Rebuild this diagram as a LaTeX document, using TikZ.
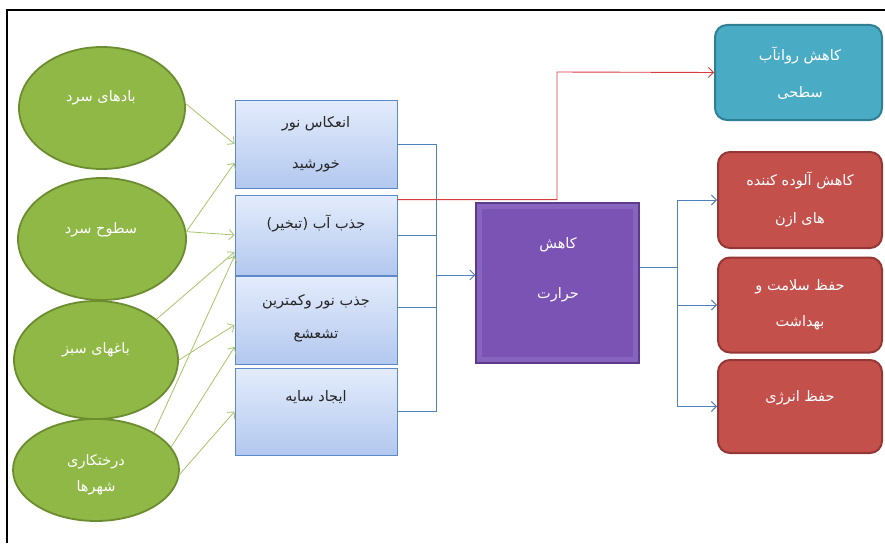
\documentclass[tikz,border=0pt]{standalone}
\usepackage{fontspec}
\usetikzlibrary{shapes.geometric,arrows.meta}
\TeXXeTstate=1
\newfontfamily\farsifont[Script=Arabic]{DejaVu Sans}
\newcommand{\fatext}[1]{\beginR #1\endR}

\definecolor{leafgreen}{HTML}{8FB847}
\definecolor{leafedge}{HTML}{6B8C2F}
\definecolor{arrowgreen}{HTML}{A6C466}
\definecolor{boxtop}{HTML}{E3ECFB}
\definecolor{boxbottom}{HTML}{B3C8EF}
\definecolor{boxedge}{HTML}{5B89C9}
\definecolor{lineblue}{HTML}{4F81BD}
\definecolor{heatfill}{HTML}{7A53B5}
\definecolor{heatband}{HTML}{8765BF}
\definecolor{heatedge}{HTML}{5C3B8C}
\definecolor{waterfill}{HTML}{4AABC5}
\definecolor{wateredge}{HTML}{2F7F95}
\definecolor{brickfill}{HTML}{C4504C}
\definecolor{brickedge}{HTML}{953734}
\definecolor{linered}{HTML}{D93A3C}

\begin{document}
\begin{tikzpicture}[x=1pt,y=-1pt,
  >={Straight Barb[length=5pt,width=10pt]},
  oval/.style={ellipse,draw=leafedge,line width=1.8pt,fill=leafgreen},
  effect/.style={rectangle,draw=boxedge,line width=0.9pt,top color=boxtop,bottom color=boxbottom,minimum width=162pt},
  result/.style={rectangle,rounded corners=12pt,line width=2pt,minimum width=164pt},
  txt/.style={font=\farsifont\fontsize{14.5}{18}\selectfont,align=center,inner sep=0pt},
  greenarrow/.style={->,draw=arrowgreen,line width=0.8pt},
  bluearrow/.style={draw=lineblue,line width=0.9pt},
  redarrow/.style={->,draw=linered,line width=0.9pt}]
\useasboundingbox (0,0) rectangle (885,543);
\draw[line width=1.2pt] (7,543) -- (7,10) -- (885,10);

\node[oval,minimum width=166pt,minimum height=122pt] (wind) at (102,108) {};
\node[oval,minimum width=168pt,minimum height=122pt] (surf) at (102,239) {};
\node[oval,minimum width=164pt,minimum height=118pt] (garden) at (96,360) {};
\node[oval,minimum width=166pt,minimum height=102pt] (trees) at (96,470) {};
\node[txt,text=white] (windtxt) at (101,98) {\fatext{بادهای سرد}};
\node[txt,text=white] (surftxt) at (101,230) {\fatext{سطوح سرد}};
\node[txt,text=white] (gardentxt) at (96,350) {\fatext{باغهای سبز}};
\node[txt,text=white] (treestxt) at (96,475) {\fatext{درختکاری}\\[8pt]\fatext{شهرها}};

\node[effect,minimum height=88pt] (b1) at (316,144) {};
\node[effect,minimum height=80pt] (b2) at (316,235) {};
\node[effect,minimum height=88pt] (b3) at (316,320) {};
\node[effect,minimum height=87pt] (b4) at (316,411.5) {};
\node[txt,text=black!85] (b1txt) at (316,144.5) {\fatext{انعکاس نور}\\[23pt]\fatext{خورشید}};
\node[txt,text=black!85] (b2txt) at (316,223) {\fatext{جذب آب (تبخیر)}};
\node[txt,text=black!85] (b3txt) at (316,318) {\fatext{جذب نور وکمترین}\\[15pt]\fatext{تشعشع}};
\node[txt,text=black!85] (b4txt) at (316,397) {\fatext{ایجاد سایه}};

\node[rectangle,draw=heatedge,line width=1.2pt,fill=heatfill,
  minimum width=163pt,minimum height=160pt] (cool) at (557.5,283) {};
\draw[heatband,line width=5pt] ([shift={(4pt,-4pt)}]cool.north west) rectangle ([shift={(-4pt,4pt)}]cool.south east);
\node[txt,text=white] (cooltxt) at (558,270) {\fatext{کاهش}\\[32pt]\fatext{حرارت}};

\node[result,draw=wateredge,fill=waterfill,minimum width=167pt,minimum height=95pt] (runoff) at (798.5,72.5) {};
\node[result,draw=brickedge,fill=brickfill,minimum height=96pt] (ozone) at (800,200) {};
\node[result,draw=brickedge,fill=brickfill,minimum height=95pt] (health) at (800,305) {};
\node[result,draw=brickedge,fill=brickfill,minimum height=93pt] (energy) at (800,406.5) {};
\node[txt,text=white] (runofftxt) at (800,73) {\fatext{کاهش روانآب}\\[19pt]\fatext{سطحی}};
\node[txt,text=white] (ozonetxt) at (800,199) {\fatext{کاهش آلوده کننده}\\[20pt]\fatext{های ازن}};
\node[txt,text=white] (healthtxt) at (800,305) {\fatext{حفظ سلامت و}\\[18pt]\fatext{بهداشت}};
\node[txt,text=white] (energytxt) at (800,398) {\fatext{حفظ انرژی}};

\draw[greenarrow] (wind.3) -- (b1.west);
\draw[greenarrow] (surf.5) -- ([yshift=-19pt]b1.west);
\draw[greenarrow] (surf.5) -- (b2.west);
\draw[greenarrow] (garden.34) -- ([yshift=-17pt]b2.west);
\draw[greenarrow] (trees.33) -- ([yshift=-21pt]b2.west);
\draw[greenarrow] (garden.0) -- ([yshift=-5pt]b3.west);
\draw[greenarrow] (trees.17) -- ([yshift=-27pt]b3.west);
\draw[greenarrow] (trees.-3) -- (b4.west);

\coordinate (inbus) at (436,275);
\draw[bluearrow] (b1.east) -| (inbus);
\draw[bluearrow] (b4.east) -| (inbus);
\draw[bluearrow] (b2.east) -- (b2.east -| inbus);
\draw[bluearrow] ([yshift=13pt]b3.east) -- ([yshift=13pt]b3.east -| inbus);
\draw[bluearrow,->] (inbus) -- (inbus -| cool.west);

\coordinate (outbus) at (677,267);
\draw[bluearrow] (cool.east |- outbus) -- (outbus);
\draw[bluearrow,->] (outbus) |- (ozone.west);
\draw[bluearrow,->] (outbus) |- (energy.west);
\draw[bluearrow,->] (health.west -| outbus) -- (health.west);

\coordinate (redbend) at (557,72);
\draw[redarrow] ([yshift=-5pt]b2.north east) -| (redbend) -- (runoff.west);
\end{tikzpicture}
\end{document}
